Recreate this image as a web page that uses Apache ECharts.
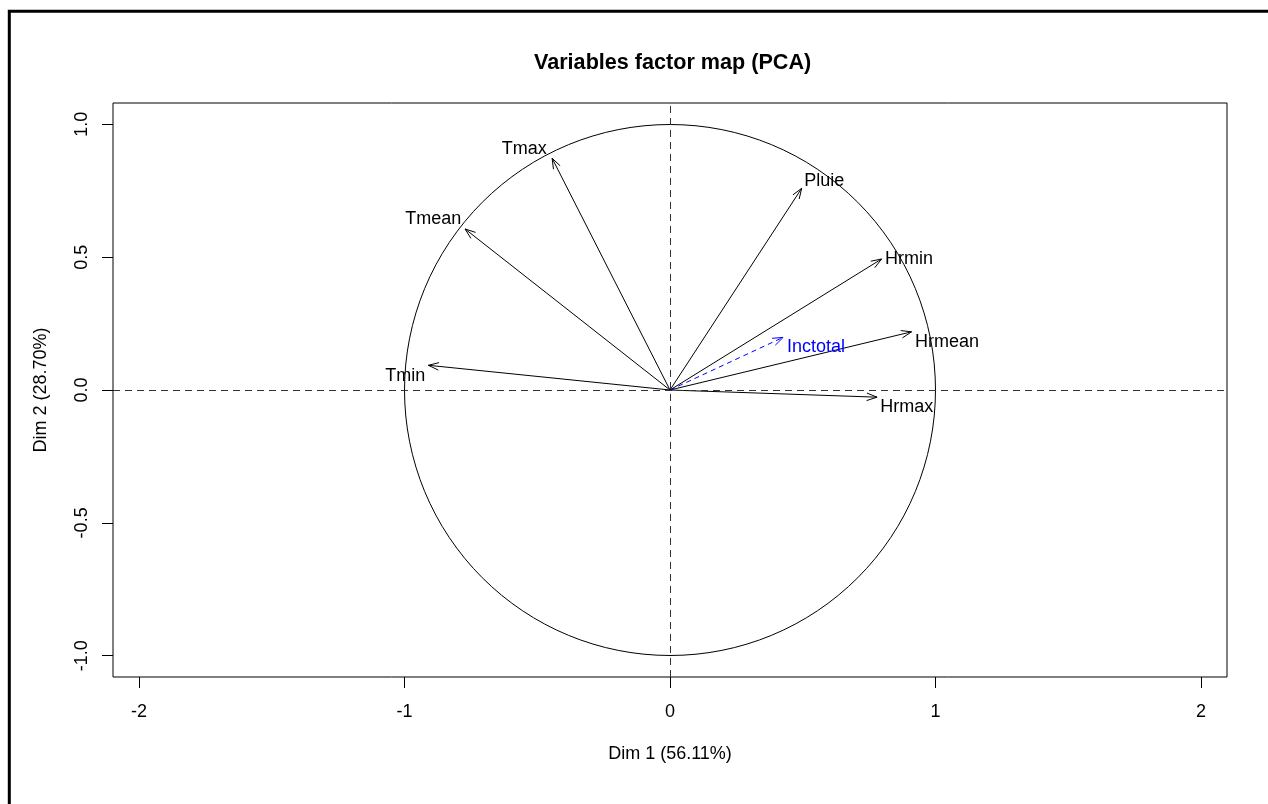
<!DOCTYPE html>
<html><head><meta charset="utf-8">
<script src="https://cdn.jsdelivr.net/npm/echarts@6/dist/echarts.min.js"></script>
<style>html,body{margin:0;padding:0;background:#fff}#c{width:1268px;height:804px}</style>
</head><body><div id="c"></div>
<script>
// Active variables: coordinates on Dim 1 / Dim 2
const variables = ['Tmax', 'Tmean', 'Tmin', 'Pluie', 'Hrmin', 'Hrmean', 'Hrmax'];
const dim1 = [-0.444, -0.772, -0.910, 0.496, 0.797, 0.910, 0.780];
const dim2 = [0.872, 0.606, 0.093, 0.759, 0.493, 0.219, -0.027];
// label anchor positions (data units)
const labelDim1 = [-0.549, -0.892, -0.997, 0.581, 0.900, 1.043, 0.892];
const labelDim2 = [0.907, 0.644, 0.053, 0.788, 0.493, 0.181, -0.063];
// Supplementary variable
const supVariables = ['Inctotal'];
const supDim1 = [0.426];
const supDim2 = [0.198];
const supLabelDim1 = [0.550];
const supLabelDim2 = [0.161];
// Ticks
const xTicks = [-2, -1, 0, 1, 2];
const yTicks = [-1.0, -0.5, 0.0, 0.5, 1.0];

const FONT = '"Liberation Sans", Arial, Helvetica, sans-serif';

const activeData = variables.map((n, i) => [dim1[i], dim2[i], labelDim1[i], labelDim2[i]]);
const supData = supVariables.map((n, i) => [supDim1[i], supDim2[i], supLabelDim1[i], supLabelDim2[i]]);

function arrowRenderer(names, color, dash) {
  return function (params, api) {
    const o = api.coord([0, 0]);
    const t = api.coord([api.value(0), api.value(1)]);
    const l = api.coord([api.value(2), api.value(3)]);
    const ang = Math.atan2(t[1] - o[1], t[0] - o[0]);
    const L = 11, a = 20 * Math.PI / 180;
    const p1 = [t[0] - L * Math.cos(ang - a), t[1] - L * Math.sin(ang - a)];
    const p2 = [t[0] - L * Math.cos(ang + a), t[1] - L * Math.sin(ang + a)];
    const style = { stroke: color, lineWidth: 1, fill: null, lineDash: dash };
    return {
      type: 'group',
      children: [
        { type: 'line', shape: { x1: o[0], y1: o[1], x2: t[0], y2: t[1] }, style: style },
        { type: 'polyline', shape: { points: [p1, t, p2] }, style: { stroke: color, lineWidth: 1, fill: null } },
        { type: 'text', style: { text: names[params.dataIndex], x: l[0], y: l[1], align: 'center', verticalAlign: 'middle', fill: color, font: '18px ' + FONT } }
      ]
    };
  };
}

const chart = echarts.init(document.getElementById('c'), null, { renderer: 'canvas' });
chart.setOption({
  animation: false,
  backgroundColor: '#fff',
  title: {
    text: 'Variables factor map (PCA)',
    left: 529, top: 47,
    textStyle: { fontFamily: FONT, fontSize: 21.6, fontWeight: 'bold', color: '#000' }
  },
  graphic: [{
    type: 'rect', silent: true,
    shape: { x: 9.3, y: 11.3, width: 1400, height: 1000 },
    style: { stroke: '#000', lineWidth: 3, fill: null }
  }],
  grid: { left: 113, right: 41, top: 103, bottom: 127, show: true, borderColor: '#000', borderWidth: 1, backgroundColor: 'transparent' },
  xAxis: {
    type: 'value', min: -2.098, max: 2.098, position: 'bottom',
    name: 'Dim 1 (56.11%)', nameLocation: 'middle', nameGap: 68,
    nameTextStyle: { fontFamily: FONT, fontSize: 18, color: '#000' },
    axisLine: { show: false, onZero: false },
    axisTick: { show: true, inside: false, length: 11, customValues: xTicks, lineStyle: { color: '#000' } },
    axisLabel: { customValues: xTicks, margin: 26, fontFamily: FONT, fontSize: 18, color: '#000', formatter: v => String(v) },
    splitLine: { show: false }
  },
  yAxis: {
    type: 'value', min: -1.08, max: 1.08, position: 'left',
    name: 'Dim 2 (28.70%)', nameLocation: 'middle', nameGap: 63,
    nameTextStyle: { fontFamily: FONT, fontSize: 18, color: '#000' },
    axisLine: { show: false, onZero: false },
    axisTick: { show: true, inside: false, length: 11, customValues: yTicks, lineStyle: { color: '#000' } },
    axisLabel: { customValues: yTicks, rotate: 90, margin: 22, fontFamily: FONT, fontSize: 18, color: '#000', formatter: v => Number(v).toFixed(1) },
    splitLine: { show: false }
  },
  series: [
    {
      type: 'custom', name: 'circle', silent: true, data: [[0, 0]],
      renderItem: function (params, api) {
        const c = api.coord([api.value(0), api.value(1)]);
        const r = api.size([1, 1])[0];
        return { type: 'circle', shape: { cx: c[0], cy: c[1], r: r }, style: { stroke: '#000', lineWidth: 1, fill: null } };
      },
      markLine: {
        silent: true, symbol: 'none', label: { show: false },
        lineStyle: { color: '#333', width: 1, type: [7, 5] },
        data: [{ xAxis: 0 }, { yAxis: 0 }]
      }
    },
    {
      type: 'custom', name: 'active', silent: true, data: activeData,
      renderItem: arrowRenderer(variables, '#000', null)
    },
    {
      type: 'custom', name: 'supplementary', silent: true, data: supData,
      renderItem: arrowRenderer(supVariables, '#0000ff', [5, 4])
    }
  ]
});
</script>
</body></html>
